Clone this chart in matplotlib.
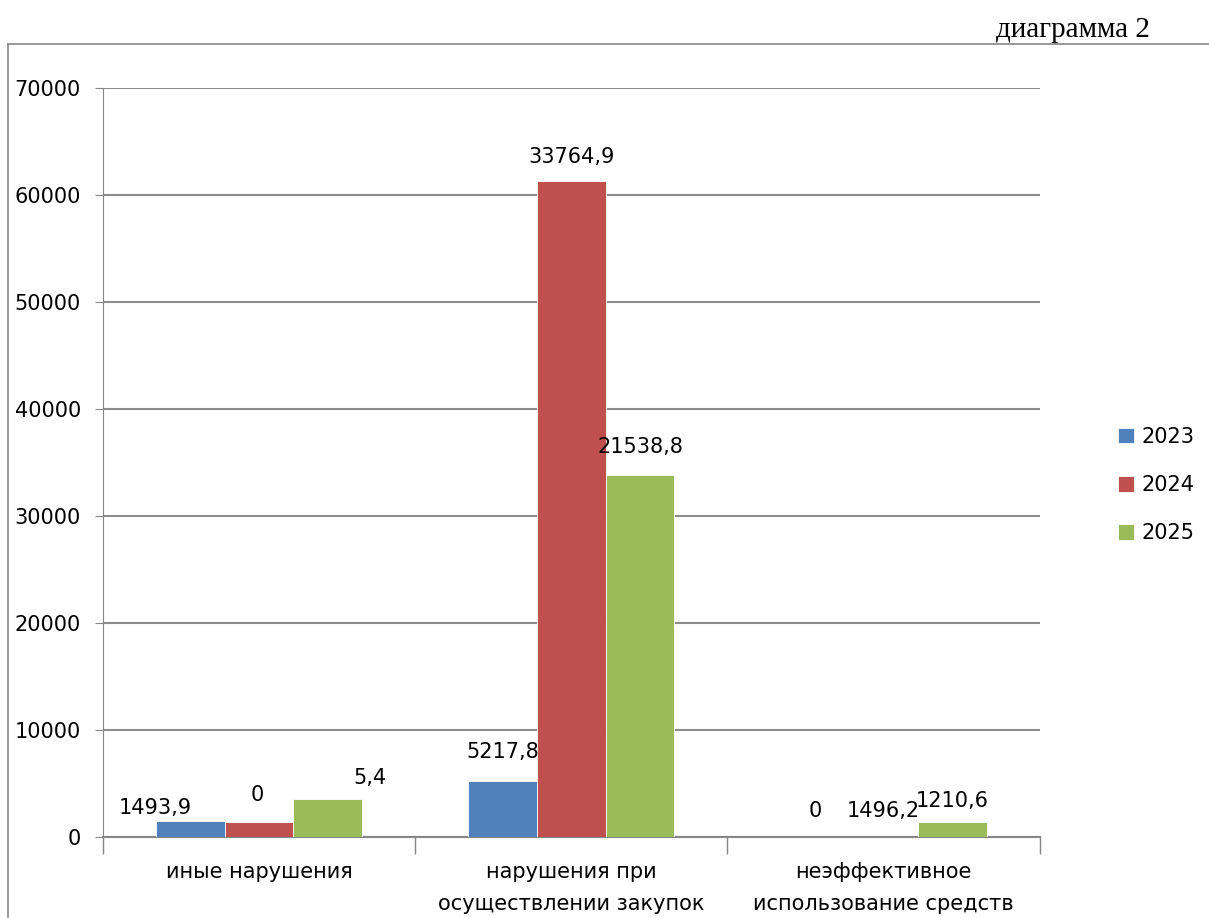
import numpy as np
import matplotlib
matplotlib.use("Agg")
import matplotlib.pyplot as plt
from matplotlib.lines import Line2D

categories = [
    "иные нарушения",
    "нарушения при\nосуществлении закупок",
    "неэффективное\nиспользование средств",
]
years = ["2023", "2024", "2025"]

# bar heights as drawn in the picture
h2023 = [1500, 5230, 30]
h2024 = [1450, 61300, 0]
h2025 = [3550, 33800, 1450]

# data labels as printed on the picture
lab2023 = ["1493,9", "5217,8", "0"]
lab2024 = ["0", "33764,9", "1496,2"]
lab2025 = ["5,4", "21538,8", "1210,6"]

colors = ["#4F81BD", "#C0504D", "#9BBB59"]

plt.rcParams["font.family"] = ["DejaVu Sans"]

fig = plt.figure(figsize=(12.09, 9.18), dpi=100)
ax = fig.add_axes([0.0852, 0.0882, 0.7748, 0.8159])

x = np.arange(len(categories))
w = 0.22

series = [h2023, h2024, h2025]
labels = [lab2023, lab2024, lab2025]

# label offsets in pixels (dx, dy above bar top)
offs = [
    [(-35, 13), (0, 29), (0, 26)],
    [(-2, 27), (0, 24), (0, 26)],
    [(42, 21), (0, 28), (0, 21)],
]

for i, (vals, labs) in enumerate(zip(series, labels)):
    pos = x + (i - 1) * w
    ax.bar(pos, vals, width=w, color=colors[i], label=years[i],
           edgecolor="white", linewidth=0.6, zorder=3)
    for j in range(len(categories)):
        dx, dy = offs[i][j]
        ax.annotate(labs[j], (pos[j], vals[j]),
                    xytext=(dx * 0.72, dy * 0.72), textcoords="offset points",
                    ha="center", va="center", fontsize=15, zorder=4)

ax.set_ylim(0, 70000)
ax.set_xlim(-0.5, 2.5)
ax.set_yticks(np.arange(0, 70001, 10000))
ax.tick_params(axis="y", labelsize=15, length=6, color="#868686", pad=10)
ax.yaxis.grid(True, color="#8c8c8c", linewidth=1.5, zorder=0)

ax.set_xticks(x)
ax.set_xticklabels(categories, fontsize=15, linespacing=1.75)
ax.tick_params(axis="x", which="major", length=0, pad=18)
ax.set_xticks([-0.5, 0.5, 1.5, 2.5], minor=True)
ax.tick_params(axis="x", which="minor", length=12, color="#868686", width=1)

for s in ["top", "right"]:
    ax.spines[s].set_visible(False)
ax.spines["left"].set_color("#868686")
ax.spines["bottom"].set_color("#868686")
ax.spines["bottom"].set_linewidth(1.5)

ax.legend(loc="center left", bbox_to_anchor=(1.063, 0.47), frameon=False,
          fontsize=15, handlelength=0.77, handleheight=0.77,
          handletextpad=0.4, labelspacing=1.35)

# outer frame of the chart area
fig.add_artist(Line2D([8 / 1209, 1], [1 - 44 / 918, 1 - 44 / 918],
                      color="#868686", linewidth=1.2))
fig.add_artist(Line2D([8 / 1209, 8 / 1209], [0, 1 - 44 / 918],
                      color="#868686", linewidth=1.2))

fig.text(1150 / 1209, 1 - 30 / 918, "диаграмма 2", ha="right", va="center",
         fontsize=21, family="Liberation Serif")

fig.savefig("out.png", dpi=100)
